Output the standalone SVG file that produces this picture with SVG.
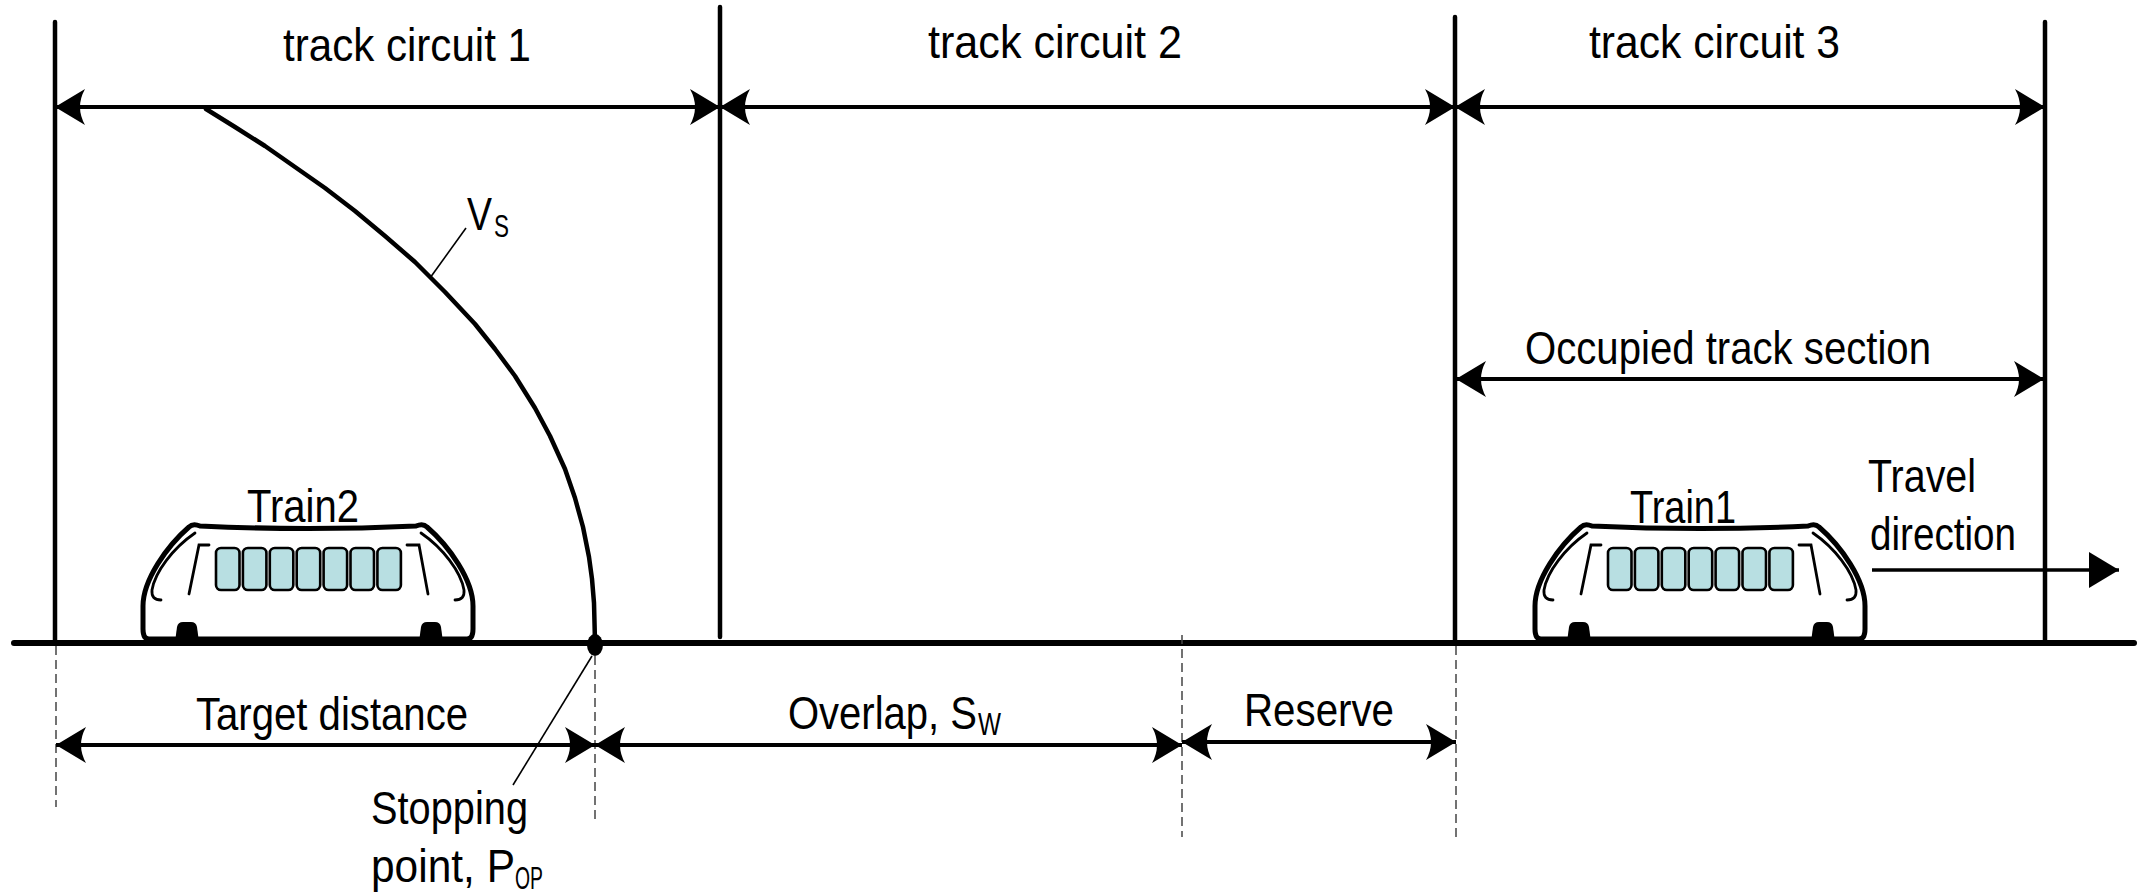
<svg xmlns="http://www.w3.org/2000/svg" xmlns:xlink="http://www.w3.org/1999/xlink" width="2141" height="895" viewBox="0 0 2141 895">
  <style>
    .lbl { font-family: "Liberation Sans Narrow", "Liberation Sans", Arial, sans-serif; font-size: 47px; fill: #000; }
    .sub { font-size: 31px; }
    .bound { stroke: #000; stroke-width: 4.5; stroke-linecap: round; fill: none; }
    .dim { stroke: #000; stroke-width: 4; fill: none; marker-start: url(#head); marker-end: url(#head); }
    .guide { stroke: #444; stroke-width: 1.5; stroke-dasharray: 9 5; fill: none; }
    .leader { stroke: #000; stroke-width: 1.6; fill: none; }
    .body { fill: #fff; stroke: #000; stroke-width: 5; stroke-linejoin: round; }
    .trim { fill: none; stroke: #000; stroke-width: 2.8; stroke-linecap: round; }
    .win { fill: #b8dfe2; stroke: #000; stroke-width: 2.6; }
    .wheel { fill: #000; }
  </style>
  <defs>
    <!-- dimension arrowhead with concave back -->
    <marker id="head" markerUnits="userSpaceOnUse" viewBox="0 0 30 36" refX="30" refY="18" markerWidth="30" markerHeight="36" orient="auto-start-reverse">
      <path d="M30,18 L0,0 Q10,18 0,36 Z" fill="#000"/>
    </marker>
    <marker id="tri" markerUnits="userSpaceOnUse" viewBox="0 0 30 36" refX="30" refY="18" markerWidth="30" markerHeight="36" orient="auto">
      <path d="M30,18 L0,0 L0,36 Z" fill="#000"/>
    </marker>
    <!-- train car, local x from 0 (left end) to 330 (right end) -->
    <g id="train-shape">
      <path class="body" d="M6,639 Q0,639 0,629 L0,606 C0,580 24,546 46,527 Q50,523 57,526 Q165,531 273,526 Q280,523 284,527 C306,546 330,580 330,606 L330,629 Q330,639 324,639 Z"/>
      <path class="trim" d="M18,600 Q8,600 9,590 C12,572 30,548 52,533"/>
      <path class="trim" d="M312,600 Q322,600 321,590 C318,572 300,548 278,533"/>
      <path class="trim" d="M66,545 H56 L46,594"/>
      <path class="trim" d="M264,545 H276 L285,594"/>
      <rect class="win" x="73" y="548" width="23.5" height="42" rx="5"/>
      <rect class="win" x="99.9" y="548" width="23.5" height="42" rx="5"/>
      <rect class="win" x="126.8" y="548" width="23.5" height="42" rx="5"/>
      <rect class="win" x="153.7" y="548" width="23.5" height="42" rx="5"/>
      <rect class="win" x="180.6" y="548" width="23.5" height="42" rx="5"/>
      <rect class="win" x="207.5" y="548" width="23.5" height="42" rx="5"/>
      <rect class="win" x="234.4" y="548" width="23.5" height="42" rx="5"/>
      <path class="wheel" d="M32,642 L34,627 Q35,622 40,622 L48,622 Q53,622 54,627 L56,642 Z"/>
      <path class="wheel" d="M276,642 L278,627 Q279,622 284,622 L292,622 Q297,622 298,627 L300,642 Z"/>
    </g>
  </defs>

  <rect width="2141" height="895" fill="#fff"/>

  <!-- trains -->
  <g id="train2">
    <use xlink:href="#train-shape" href="#train-shape" x="143" y="0"/>
    <text class="lbl" x="247" y="522" textLength="112" lengthAdjust="spacingAndGlyphs">Train2</text>
  </g>
  <g id="train1">
    <use xlink:href="#train-shape" href="#train-shape" x="1535" y="0"/>
    <text class="lbl" x="1630" y="523" textLength="106" lengthAdjust="spacingAndGlyphs">Train1</text>
  </g>

  <!-- rail and track-circuit boundaries -->
  <g id="track">
    <line x1="14" y1="643" x2="2134" y2="643" stroke="#000" stroke-width="6" stroke-linecap="round"/>
    <line class="bound" x1="55" y1="22" x2="55" y2="643"/>
    <line class="bound" x1="720" y1="7" x2="720" y2="637"/>
    <line class="bound" x1="1455" y1="17" x2="1455" y2="643"/>
    <line class="bound" x1="2045" y1="22" x2="2045" y2="643"/>
  </g>

  <!-- track circuit labels -->
  <g id="tc1"><text class="lbl" x="283" y="61" textLength="248" lengthAdjust="spacingAndGlyphs">track circuit 1</text></g>
  <g id="tc2"><text class="lbl" x="928" y="58" textLength="254" lengthAdjust="spacingAndGlyphs">track circuit 2</text></g>
  <g id="tc3"><text class="lbl" x="1589" y="58" textLength="251" lengthAdjust="spacingAndGlyphs">track circuit 3</text></g>

  <!-- braking curve Vs -->
  <g id="braking-curve">
    <polyline fill="none" stroke="#000" stroke-width="4.5" stroke-linejoin="round" stroke-linecap="round"
      points="206,109 235,127 265,146 295,167 325,188 355,211 385,236 415,262 445,292 475,324 495,349 515,376 535,408 550,436 565,469 575,498 583,527 589,557 592,579 594,603 595,642"/>
    <line class="leader" x1="466" y1="228" x2="430" y2="278"/>
    <text class="lbl" y="230"><tspan x="467" textLength="25" lengthAdjust="spacingAndGlyphs">V</tspan><tspan class="sub" x="494" y="237" textLength="15" lengthAdjust="spacingAndGlyphs">S</tspan></text>
  </g>

  <!-- stopping point -->
  <g id="stopping-point">
    <ellipse cx="595" cy="645" rx="8" ry="11" fill="#000"/>
    <line class="leader" x1="592" y1="656" x2="513" y2="785"/>
    <text class="lbl" x="371" y="824" textLength="157" lengthAdjust="spacingAndGlyphs">Stopping</text>
    <text class="lbl" y="882"><tspan x="371" textLength="144" lengthAdjust="spacingAndGlyphs">point, P</tspan><tspan class="sub" x="515" y="889" textLength="28" lengthAdjust="spacingAndGlyphs">OP</tspan></text>
  </g>

  <!-- dashed reference lines -->
  <g id="guides">
    <line class="guide" x1="56" y1="646" x2="56" y2="807"/>
    <line class="guide" x1="595" y1="656" x2="595" y2="820"/>
    <line class="guide" x1="1182" y1="635" x2="1182" y2="837"/>
    <line class="guide" x1="1456" y1="646" x2="1456" y2="837"/>
  </g>

  <!-- dimension arrows -->
  <g id="connectors">
    <line class="dim" x1="55" y1="107" x2="720" y2="107"/>
    <line class="dim" x1="720" y1="107" x2="1455" y2="107"/>
    <line class="dim" x1="1455" y1="107" x2="2045" y2="107"/>
    <line class="dim" x1="1456" y1="379" x2="2044" y2="379"/>
    <line class="dim" x1="56" y1="745" x2="595" y2="745"/>
    <line class="dim" x1="595" y1="745" x2="1182" y2="745"/>
    <line class="dim" x1="1182" y1="742" x2="1456" y2="742"/>
    <line x1="1872" y1="570" x2="2119" y2="570" stroke="#000" stroke-width="3.5" marker-end="url(#tri)"/>
  </g>

  <!-- dimension labels -->
  <g id="occupied"><text class="lbl" x="1525" y="364" textLength="406" lengthAdjust="spacingAndGlyphs">Occupied track section</text></g>
  <g id="travel">
    <text class="lbl" x="1868" y="492" textLength="108" lengthAdjust="spacingAndGlyphs">Travel</text>
    <text class="lbl" x="1870" y="550" textLength="146" lengthAdjust="spacingAndGlyphs">direction</text>
  </g>
  <g id="target"><text class="lbl" x="196" y="730" textLength="272" lengthAdjust="spacingAndGlyphs">Target distance</text></g>
  <g id="overlap">
    <text class="lbl" y="729"><tspan x="788" textLength="189" lengthAdjust="spacingAndGlyphs">Overlap, S</tspan><tspan class="sub" x="978" y="735" textLength="23" lengthAdjust="spacingAndGlyphs">W</tspan></text>
  </g>
  <g id="reserve"><text class="lbl" x="1244" y="726" textLength="150" lengthAdjust="spacingAndGlyphs">Reserve</text></g>
</svg>
